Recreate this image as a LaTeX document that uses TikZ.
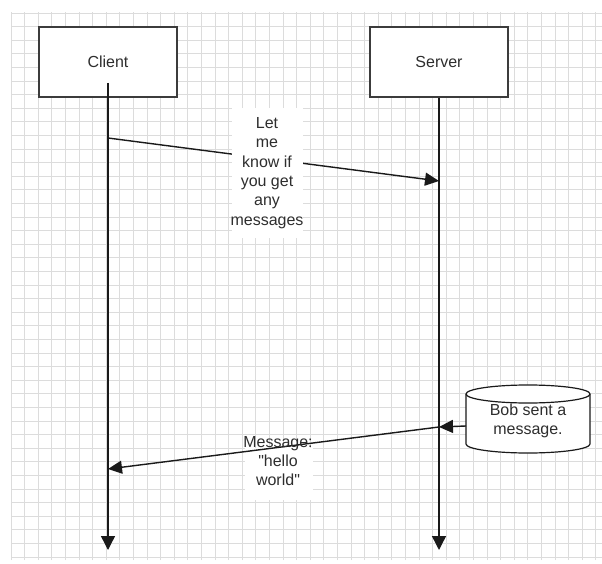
\documentclass[tikz,border=0pt]{standalone}
\usepackage{fontspec}
\setmainfont{Liberation Sans}
\usetikzlibrary{arrows.meta}
\definecolor{gridgray}{HTML}{DCDCDC}
\definecolor{edgegray}{HTML}{3C3C3C}
\definecolor{inkgray}{HTML}{2E2E2E}
\definecolor{wireblack}{HTML}{1A1A1A}
\tikzset{
  gridline/.style={draw=gridgray, line width=0.7pt},
  actorbox/.style={draw=edgegray, line width=1.8pt, fill=white, minimum width=138pt, minimum height=70pt, inner sep=0pt, text=inkgray, font=\fontsize{16}{19}\selectfont},
  lifeline/.style={draw=wireblack, line width=1.4pt, -{Triangle[length=14pt,width=14pt]}},
  msgline/.style={draw=wireblack, line width=1.4pt, -{Triangle[length=14pt,width=13pt]}},
  msglabel/.style={align=center, text=inkgray, font=\fontsize{16}{19.4}\selectfont, inner sep=0pt},
  cylline/.style={draw=wireblack, line width=1.2pt},
}
\begin{document}
\begin{tikzpicture}[x=1pt, y=1pt]
  \useasboundingbox (0,0) rectangle (602,563);
  \fill[white] (0,0) rectangle (602,563);
  % background grid
  \foreach \i in {0,...,43} {
    \draw[gridline] ({11+13.6*\i},3) -- ({11+13.6*\i},551);
  }
  \foreach \j in {0,...,40} {
    \draw[gridline] (11,{550-13.6*\j}) -- (602,{550-13.6*\j});
  }

  % participants
  \node[actorbox] (client) at (108,501) {Client};
  \node[actorbox] (server) at (439,501) {Server};

  % lifeline anchors
  \coordinate (cTop) at (108,480);
  \coordinate (cEnd) at (108,13);
  \coordinate (sEnd) at (439,13);
  \coordinate (c1) at (108,425);
  \coordinate (s1) at (439,382);
  \coordinate (s2) at (439,136);
  \coordinate (c2) at (108,94);

  % lifelines
  \draw[lifeline] (cTop) -- (cEnd);
  \draw[lifeline] (server.south) -- (sEnd);

  % first message
  \draw[msgline] (c1) -- (s1);
  \fill[white] (232,325) rectangle (303,455);
  \node[msglabel] (ask) at (267,390) {Let\\me\\know if\\you get\\any\\messages};

  % data store
  \draw[cylline, fill=white] (466,169) -- (466,119)
    arc[start angle=180, end angle=360, x radius=62pt, y radius=9pt]
    -- (590,169)
    arc[start angle=0, end angle=180, x radius=62pt, y radius=9pt] -- cycle;
  \draw[cylline] (466,169) arc[start angle=180, end angle=360, x radius=62pt, y radius=9pt];
  \node[msglabel] (bob) at (528,142) {Bob sent a\\message.};
  \coordinate (store) at (466,137);
  \draw[msgline] (store) -- (s2);

  % second message
  \fill[white] (245,63) rectangle (313,115);
  \draw[msgline] (s2) -- (c2);
  \node[msglabel] (reply) at (278,102) {Message:\\\textquotedbl hello\\world\textquotedbl};
\end{tikzpicture}
\end{document}
